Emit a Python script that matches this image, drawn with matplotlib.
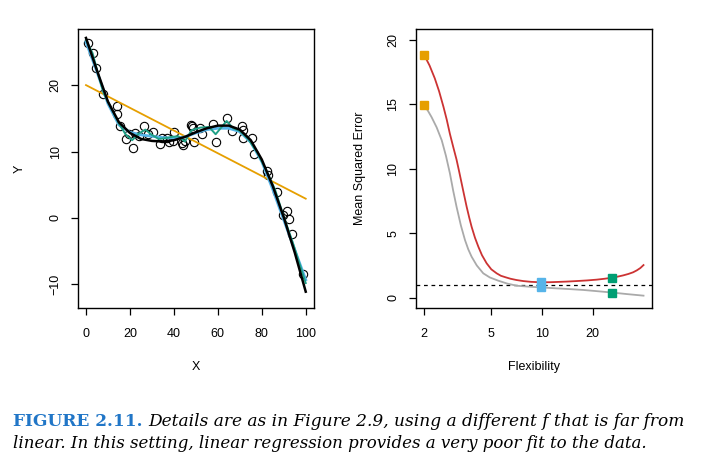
import matplotlib
matplotlib.use("Agg")
import matplotlib.pyplot as plt

# ---------------- data: left panel ----------------
obs_x = [1, 3.3, 4.7, 7.8, 14, 14.2, 15.5, 18, 19.7, 21.5, 22.5, 24, 26.5, 28, 30.7,
         33.5, 34.5, 36.7, 38, 39.5, 40.2, 43.5, 44.3, 45, 47.6, 48.1, 48.6, 49,
         51.9, 53, 57.7, 59, 64, 66.6, 70.9, 71.3, 71.6, 75.7, 76.6, 82.2, 83,
         87.1, 89.8, 91.7, 92.6, 93.6, 98.6]
obs_y = [26.3, 24.9, 22.5, 18.6, 16.9, 15.7, 13.9, 11.9, 12.6, 10.6, 12.8, 12.4, 13.9,
         12.6, 12.9, 11.1, 12.0, 12.0, 11.5, 11.6, 13.0, 11.3, 11.0, 11.6, 14.0, 13.8,
         13.5, 11.4, 13.5, 12.6, 14.1, 11.5, 15.1, 13.1, 13.8, 13.3, 12.1, 12.0, 9.7,
         7.0, 6.4, 3.9, 0.4, 1.0, -0.1, -2.4, -8.4]

true_x = [0, 5, 10, 15, 20, 25, 30, 35, 40, 45, 50, 55, 60, 65, 70, 75, 80, 85, 90, 95, 100]
true_y = [27.1, 22.2, 17.5, 14.4, 12.8, 11.9, 11.6, 11.5, 11.7, 12.2, 12.9, 13.5, 13.9,
          13.9, 13.3, 11.7, 8.8, 4.8, 0.1, -5.2, -11.1]

lin_x = [0, 100]
lin_y = [20.0, 2.9]

smooth_x = [0, 5, 10, 15, 20, 25, 30, 35, 40, 45, 50, 55, 60, 65, 70, 75, 80, 85, 90, 95, 100]
smooth_y = [26.5, 22.0, 17.2, 14.0, 12.9, 12.5, 12.3, 12.1, 12.0, 12.2, 12.8, 13.3, 13.5,
            13.5, 13.0, 11.4, 8.5, 4.3, -0.3, -4.8, -9.3]

wiggly_x = [0, 3, 5, 8, 12, 15, 18, 21, 24, 27, 30, 33, 36, 39, 42, 45, 48, 52, 56,
            59, 61, 64, 67, 70, 74, 78, 82, 86, 90, 94, 100]
wiggly_y = [26.8, 24.8, 22.3, 18.8, 16.2, 14.2, 12.6, 11.7, 12.7, 13.3, 12.5, 11.9, 12.0,
            12.2, 12.3, 11.5, 13.2, 13.6, 13.7, 12.6, 13.4, 14.6, 13.5, 13.1, 11.8, 9.8,
            7.2, 4.3, 0.2, -3.6, -9.8]

# ---------------- data: right panel ----------------
test_flex = [2.0, 2.15, 2.31, 2.45, 2.60, 2.72, 2.84, 2.97, 3.11, 3.22, 3.33, 3.45, 3.57,
             3.70, 3.82, 4.0, 4.19, 4.4, 4.69, 5.0, 5.38, 5.7, 6.09, 6.5, 7.06, 7.74, 8.6,
             9.72, 11, 12.2, 14, 16.0, 18.5, 21.1, 23.5, 26.0, 28, 30.3, 32.5, 34.7, 36.5,
             38.3, 40.0]
test_mse = [18.8, 18.0, 17.0, 16.0, 14.8, 13.8, 12.7, 11.7, 10.7, 9.8, 8.9, 7.95, 7.05,
            6.2, 5.5, 4.65, 3.95, 3.3, 2.67, 2.2, 1.89, 1.7, 1.58, 1.47, 1.37, 1.29, 1.23,
            1.2, 1.2, 1.22, 1.25, 1.29, 1.34, 1.40, 1.47, 1.55, 1.63, 1.73, 1.84, 1.97,
            2.12, 2.3, 2.53]

train_flex = [2.0, 2.1, 2.21, 2.37, 2.54, 2.69, 2.84, 2.97, 3.11, 3.3, 3.49, 3.65, 3.82,
              4.1, 4.48, 4.9, 5.5, 6.2, 7.06, 8.3, 9.8, 12, 14.5, 17.6, 21.5, 26.1, 32, 40.0]
train_mse = [14.9, 14.5, 14.0, 13.2, 12.2, 11.0, 9.64, 8.3, 7.05, 5.6, 4.47, 3.75, 3.18,
             2.5, 1.89, 1.57, 1.32, 1.1, 0.93, 0.86, 0.80, 0.73, 0.67, 0.6, 0.5, 0.40,
             0.28, 0.16]

irreducible = 1.0

mark_flex = [2, 9.8, 26.0]
mark_test = [18.8, 1.19, 1.55]
mark_train = [14.9, 0.85, 0.39]
mark_colors = ["#E69F00", "#56B4E9", "#009E73"]

# ---------------- figure ----------------
W, H = 704, 476
fig = plt.figure(figsize=(W / 100, H / 100), dpi=100)
FONT = "Liberation Sans"
plt.rcParams["font.family"] = [FONT, "DejaVu Sans"]
TFS = 9

def axes_px(x0, y0, x1, y1):
    return fig.add_axes([x0 / W, 1 - y1 / H, (x1 - x0) / W, (y1 - y0) / H])

def style(ax):
    for s in ax.spines.values():
        s.set_linewidth(1.0)
    ax.tick_params(axis="both", direction="out", length=5, width=0.9,
                   labelsize=TFS, pad=7)
    ax.tick_params(axis="x", pad=9)
    plt.setp(ax.get_yticklabels(), rotation=90, va="center", ha="right")

# left panel
ax1 = axes_px(78.3, 29.3, 314.3, 308.3)
ax1.plot(obs_x, obs_y, "o", ms=6, mfc="none", mec="black", mew=0.8, zorder=2)
ax1.plot(lin_x, lin_y, color="#E69F00", lw=1.3, zorder=3)
ax1.plot(smooth_x, smooth_y, color="#56B4E9", lw=2.0, zorder=4)
ax1.plot(wiggly_x, wiggly_y, color="#1FA187", lw=1.4, zorder=5)
ax1.plot(true_x, true_y, color="black", lw=1.8, zorder=6)
ax1.set_xlim(-3.5, 103.9)
ax1.set_ylim(-13.6, 28.4)
ax1.set_xticks([0, 20, 40, 60, 80, 100])
ax1.set_yticks([-10, 0, 10, 20])
style(ax1)

# right panel
ax2 = axes_px(415.7, 29.3, 652.3, 308.3)
ax2.set_xscale("log")
ax2.plot(train_flex, train_mse, color="#AAAAAA", lw=1.3, zorder=2)
ax2.plot(test_flex, test_mse, color="#CC3333", lw=1.3, zorder=3)
ax2.axhline(irreducible, color="black", lw=0.9, ls=(0, (3, 3)), zorder=1)
for f, a, b, c in zip(mark_flex, mark_test, mark_train, mark_colors):
    ax2.plot([f, f], [a, b], "s", ms=5.5, color=c, mec=c, zorder=5, ls="none")
ax2.set_xlim(1.78, 45.1)
ax2.set_ylim(-0.82, 20.8)
ax2.set_xticks([2, 5, 10, 20])
ax2.set_xticklabels(["2", "5", "10", "20"])
ax2.xaxis.set_minor_locator(matplotlib.ticker.NullLocator())
ax2.set_yticks([0, 5, 10, 15, 20])
style(ax2)

# axis titles
fig.text(196 / W, 1 - 367 / H, "X", ha="center", va="center", fontsize=TFS)
fig.text(20 / W, 1 - 168.7 / H, "Y", ha="center", va="center", fontsize=TFS, rotation=90)
fig.text(534 / W, 1 - 367 / H, "Flexibility", ha="center", va="center", fontsize=TFS)
fig.text(360 / W, 1 - 168.7 / H, "Mean Squared Error", ha="center", va="center",
         fontsize=TFS, rotation=90)

# caption: each line's font size fitted to the reference line width
head = "FIGURE 2.11."
line1 = "Details are as in Figure 2.9, using a different f that is far from"
line2 = "linear. In this setting, linear regression provides a very poor fit to the data."

def width_at(txt, fs, **kw):
    t = fig.text(0, 0, txt, fontsize=fs, family="DejaVu Serif", **kw)
    fig.canvas.draw()
    w = t.get_window_extent().width
    t.remove()
    return w

w_head = width_at(head, 10, weight="bold")
w_l1 = width_at(line1, 10, style="italic")
w_l2 = width_at(line2, 10, style="italic")
fs1 = 10 * (690 - 13) / (w_head + w_l1 + 6)
fs2 = 10 * (643 - 13) / w_l2
fs = (fs1 + fs2) / 2
fs1 = fs + 0.6 * (fs1 - fs)
fs2 = fs + 0.6 * (fs2 - fs)

t1 = fig.text(13 / W, 1 - 421 / H, head, ha="left", va="center",
              fontsize=fs1, family="DejaVu Serif", weight="bold", color="#2176C7")
fig.canvas.draw()
bb = t1.get_window_extent()
fig.text((bb.x1 + 6) / W, 1 - 421 / H, line1,
         ha="left", va="center", fontsize=fs1, family="DejaVu Serif", style="italic")
fig.text(13 / W, 1 - 443 / H, line2,
         ha="left", va="center", fontsize=fs2, family="DejaVu Serif", style="italic")

fig.savefig("out.png", dpi=100)
